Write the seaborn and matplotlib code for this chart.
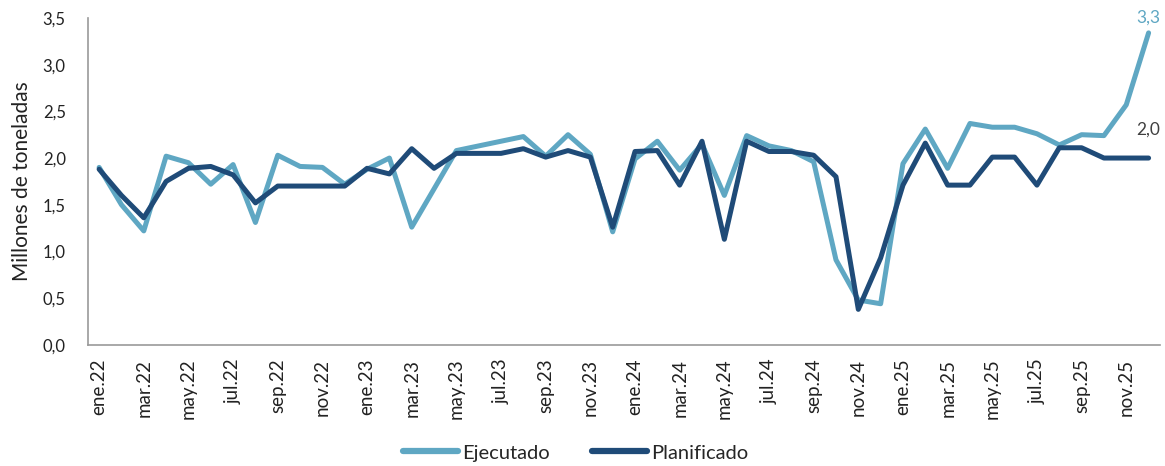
import matplotlib
matplotlib.use("Agg")
import matplotlib.pyplot as plt
import seaborn as sns
import numpy as np
import pandas as pd

# monthly data, ene.22 .. dic.25
meses = ['ene', 'feb', 'mar', 'abr', 'may', 'jun', 'jul', 'ago', 'sep', 'oct', 'nov', 'dic']
anios = ['22', '23', '24', '25']
etiquetas = [f"{m}.{a}" for a in anios for m in meses]

ejecutado = [
    1.90, 1.50, 1.22, 2.02, 1.95, 1.72, 1.93, 1.31, 2.03, 1.91, 1.90, 1.72,
    1.88, 2.00, 1.26, 1.67, 2.08, 2.13, 2.18, 2.23, 2.02, 2.25, 2.04, 1.21,
    1.99, 2.18, 1.87, 2.15, 1.60, 2.24, 2.13, 2.08, 1.96, 0.91, 0.48, 0.44,
    1.94, 2.31, 1.89, 2.37, 2.33, 2.33, 2.26, 2.14, 2.25, 2.24, 2.57, 3.34,
]
planificado = [
    1.88, 1.60, 1.36, 1.75, 1.89, 1.91, 1.82, 1.52, 1.70, 1.70, 1.70, 1.70,
    1.89, 1.83, 2.10, 1.89, 2.05, 2.05, 2.05, 2.10, 2.01, 2.08, 2.01, 1.26,
    2.07, 2.08, 1.71, 2.18, 1.13, 2.18, 2.07, 2.07, 2.03, 1.80, 0.38, 0.93,
    1.71, 2.16, 1.71, 1.71, 2.01, 2.01, 1.71, 2.11, 2.11, 2.00, 2.00, 2.00,
]

c_ejec = '#5FA7C3'
c_plan = '#1F4B78'

sns.set_theme(style="white")
plt.rcParams['font.family'] = ['Lato', 'DejaVu Sans']

df = pd.DataFrame({
    'idx': np.arange(len(etiquetas)),
    'Ejecutado': ejecutado,
    'Planificado': planificado,
})
largo = df.melt(id_vars='idx', var_name='serie', value_name='valor')

fig = plt.figure(figsize=(11.65, 4.66), dpi=100)
ax = fig.add_axes([0.0755, 0.26, 0.92, 0.7015])

sns.lineplot(data=largo, x='idx', y='valor', hue='serie',
             palette={'Ejecutado': c_ejec, 'Planificado': c_plan},
             linewidth=3.6, ax=ax, legend=False)

ax.set_xlim(-0.5, len(etiquetas) - 0.5)
ax.set_ylim(0, 3.5)
ax.set_yticks(np.arange(0, 3.51, 0.5))
ax.set_yticklabels([f"{v:.1f}".replace('.', ',') for v in np.arange(0, 3.51, 0.5)],
                   fontsize=12, color='#222222')
ax.set_xticks(np.arange(0, len(etiquetas), 2))
ax.set_xticklabels(etiquetas[::2], rotation=90, fontsize=13.5, color='#222222')
ax.set_xticks(np.arange(-0.5, len(etiquetas), 1), minor=True)
ax.tick_params(axis='x', which='major', length=0, pad=10)
ax.tick_params(axis='x', which='minor', length=4, direction='in', color='#999999', width=1)
ax.tick_params(axis='y', length=4, direction='in', color='#999999', width=1, pad=16)

for s in ['top', 'right']:
    ax.spines[s].set_visible(False)
for s in ['left', 'bottom']:
    ax.spines[s].set_color('#999999')
    ax.spines[s].set_linewidth(1.2)

ax.set_xlabel('')
ax.set_ylabel('Millones de toneladas', fontsize=15, color='#222222', labelpad=8)

ultimo = len(etiquetas) - 1
ax.text(ultimo, ejecutado[-1] + 0.08, f"{ejecutado[-1]:.1f}".replace('.', ','),
        color=c_ejec, fontsize=12.5, ha='center', va='bottom')
ax.text(ultimo, planificado[-1] + 0.22, f"{planificado[-1]:.1f}".replace('.', ','),
        color='#404040', fontsize=12.5, ha='center', va='bottom')

handles = [plt.Line2D([], [], color=c_ejec, lw=4.5, solid_capstyle='round'),
           plt.Line2D([], [], color=c_plan, lw=4.5, solid_capstyle='round')]
fig.legend(handles, ['Ejecutado', 'Planificado'], loc='center', ncol=2,
           bbox_to_anchor=(0.494, 0.028), frameon=False, fontsize=14.5,
           handlelength=2.75, handletextpad=0.2, columnspacing=2.1)

fig.savefig('out.png', dpi=100)
